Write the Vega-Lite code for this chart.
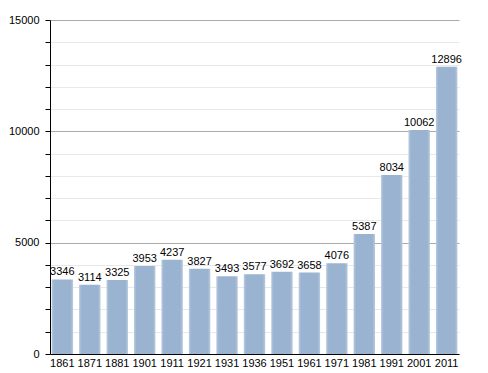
{
  "$schema": "https://vega.github.io/schema/vega-lite/v6.json",
  "width": 409,
  "height": 334,
  "autosize": {"type": "none"},
  "padding": {"left": 50, "top": 20, "right": 29, "bottom": 19},
  "background": "white",
  "config": {
    "view": {"stroke": null},
    "font": "Liberation Sans",
    "axis": {"labelFont": "Liberation Sans", "labelFontSize": 11, "labelColor": "#000"}
  },
  "data": {
    "values": [
      {"year": "1861", "pop": 3346},
      {"year": "1871", "pop": 3114},
      {"year": "1881", "pop": 3325},
      {"year": "1901", "pop": 3953},
      {"year": "1911", "pop": 4237},
      {"year": "1921", "pop": 3827},
      {"year": "1931", "pop": 3493},
      {"year": "1936", "pop": 3577},
      {"year": "1951", "pop": 3692},
      {"year": "1961", "pop": 3658},
      {"year": "1971", "pop": 4076},
      {"year": "1981", "pop": 5387},
      {"year": "1991", "pop": 8034},
      {"year": "2001", "pop": 10062},
      {"year": "2011", "pop": 12896}
    ]
  },
  "encoding": {
    "x": {
      "field": "year", "type": "nominal", "sort": null,
      "scale": {"paddingInner": 0.22, "paddingOuter": 0.06},
      "axis": {"title": null, "labelAngle": 0, "ticks": false, "domainColor": "#000", "labelPadding": 3}
    },
    "y": {
      "field": "pop", "type": "quantitative",
      "scale": {"domain": [0, 15000], "nice": false},
      "axis": {
        "title": null,
        "values": [0,1000,2000,3000,4000,5000,6000,7000,8000,9000,10000,11000,12000,13000,14000,15000],
        "labelExpr": "datum.value % 5000 === 0 ? format(datum.value, 'd') : ''",
        "tickColor": "#000", "tickSize": 5, "domainColor": "#000",
        "labelPadding": 6,
        "gridColor": {"condition": {"test": "datum.value % 5000 === 0", "value": "#aaaaaa"}, "value": "#e8e8e8"},
        "grid": true
      }
    }
  },
  "layer": [
    {
      "mark": {
        "type": "bar",
        "color": {
          "gradient": "linear", "x1": 0, "x2": 1, "y1": 0, "y2": 0,
          "stops": [
            {"offset": 0, "color": "#b9cadf"},
            {"offset": 0.12, "color": "#9ab3d0"},
            {"offset": 0.88, "color": "#9ab3d0"},
            {"offset": 1, "color": "#b9cadf"}
          ]
        }
      }
    },
    {
      "mark": {"type": "text", "baseline": "bottom", "dy": -2, "fontSize": 11, "color": "#000"},
      "encoding": {"text": {"field": "pop", "type": "quantitative", "format": "d"}}
    }
  ]
}
